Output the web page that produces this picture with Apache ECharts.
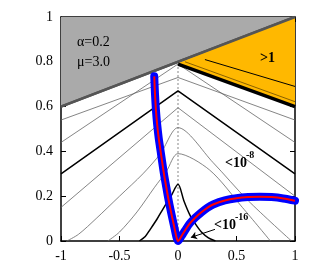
<!DOCTYPE html>
<html><head><meta charset="utf-8">
<script src="https://cdn.jsdelivr.net/npm/echarts@6/dist/echarts.min.js"></script>
<style>html,body{margin:0;padding:0;background:#fff}#c{width:316px;height:271px}</style>
</head><body><div id="c"></div>
<script>
// ---- data ----
const xRange = [-1, 1];
const yRange = [0, 1];
const greyBoundary = [[-1, 0.6], [1, 1]];
const orangeRegion = [[0, 0.795], [1, 1], [1, 0.6]];
const levelOneLine = [[0, 0.79], [1, 0.6]];
const levelOneInner = [[0.06, 0.8], [1, 0.622]];
const orangeInnerLine = [[0.23, 0.81], [1, 0.69]];
const zeroDotted = [[0, 0], [0, 0.79]];
// thin contour lines
const thinA = [[-1, 0.54], [0, 0.73], [1, 0.54]];
const thinB = [[-1, 0.44], [0, 0.79], [1, 0.44]];
const thinC = [[-1, 0.15], [0, 0.595], [1, 0.2]];
const thinD = [[-0.95, 0], [-0.85, 0.03], [-0.7, 0.1], [-0.5, 0.2], [-0.3, 0.3], [-0.15, 0.39], [0, 0.506], [0.3, 0.35], [0.6, 0.18], [0.97, 0]];
const thinE = [[-0.6, 0], [-0.5, 0.04], [-0.35, 0.13], [-0.2, 0.24], [-0.1, 0.31], [0, 0.39], [0.27, 0.317], [0.55, 0.15], [0.79, 0]];
// thick contour lines
const thickA = [[-1, 0.30], [0, 0.67], [1, 0.30]];
const thickB = [[-0.33, 0], [-0.28, 0.02], [-0.24, 0.05], [-0.18, 0.097], [-0.125, 0.146], [-0.06, 0.2], [0, 0.253], [0.05, 0.18], [0.1, 0.118], [0.15, 0.075], [0.2, 0.04], [0.26, 0.014], [0.32, 0]];
// blue/red curve
const curve = [[-0.203, 0.735], [-0.197, 0.66], [-0.188, 0.58], [-0.178, 0.52], [-0.165, 0.46], [-0.154, 0.42], [-0.14, 0.37], [-0.12, 0.3], [-0.1, 0.24], [-0.083, 0.19], [-0.06, 0.13], [-0.035, 0.07], [-0.012, 0.015], [0, 0], [0.03, 0.022], [0.06, 0.047], [0.1, 0.078], [0.15, 0.105], [0.2, 0.128], [0.25, 0.148], [0.3, 0.163], [0.4, 0.181], [0.5, 0.191], [0.6, 0.196], [0.7, 0.198], [0.8, 0.196], [0.9, 0.19], [1, 0.18]];
const arrow = [[0.316, 0.052], [0.11, 0.016]];

const serif = '"Liberation Serif","DejaVu Serif",serif';
const chart = echarts.init(document.getElementById('c'), null, {renderer: 'canvas'});

function lineS(data, color, width, extra) {
  return Object.assign({type: 'line', data: data, showSymbol: false, symbol: 'none', silent: true,
    animation: false, lineStyle: {color: color, width: width}}, extra || {});
}
function axisCommon() {
  return {
    axisLine: {onZero: false, lineStyle: {color: '#000', width: 1.5}},
    axisTick: {inside: true, length: 5, lineStyle: {color: '#000', width: 1}},
    splitLine: {show: false}
  };
}
chart.setOption({
  animation: false,
  grid: {left: 61, right: 21, top: 17, bottom: 30, containLabel: false},
  xAxis: [
    Object.assign({type: 'value', min: xRange[0], max: xRange[1], interval: 0.5, position: 'bottom',
      axisLabel: {fontFamily: serif, fontSize: 14, color: '#000', margin: 8}}, axisCommon()),
    Object.assign({type: 'value', min: xRange[0], max: xRange[1], interval: 0.5, position: 'top',
      axisLabel: {show: false}}, axisCommon())
  ],
  yAxis: [
    Object.assign({type: 'value', min: yRange[0], max: yRange[1], interval: 0.2, position: 'left',
      axisLabel: {fontFamily: serif, fontSize: 14, color: '#000', margin: 8}}, axisCommon()),
    Object.assign({type: 'value', min: yRange[0], max: yRange[1], interval: 0.2, position: 'right',
      axisLabel: {show: false}}, axisCommon())
  ],
  series: [
    lineS(greyBoundary, '#555', 2.5, {areaStyle: {color: '#aaaaaa', origin: 'end', opacity: 1}, z: 1}),
    {type: 'custom', data: orangeRegion, silent: true, z: 2,
      renderItem: function (params, api) {
        if (params.dataIndex !== 0) return null;
        const pts = orangeRegion.map(p => api.coord(p));
        return {type: 'polygon', shape: {points: pts}, style: {fill: '#ffb800'}};
      }},
    lineS(greyBoundary, '#555', 2.5, {z: 3}),
    lineS(zeroDotted, '#888', 1, {lineStyle: {color: '#888', width: 1, type: [2, 2]}, z: 3}),
    lineS(thinA, '#666', 0.8, {z: 3}),
    lineS(thinB, '#666', 0.8, {z: 3}),
    lineS(thinC, '#666', 0.8, {z: 3}),
    lineS(thinD, '#666', 0.8, {z: 3, smooth: 0.3}),
    lineS(thinE, '#666', 0.8, {z: 3, smooth: 0.3}),
    lineS(thickA, '#000', 1.5, {z: 4}),
    lineS(thickB, '#000', 1.5, {z: 4, smooth: 0.3}),
    lineS(levelOneInner, '#6b4a00', 0.8, {z: 4}),
    lineS(levelOneLine, '#000', 3.5, {z: 4}),
    lineS(orangeInnerLine, '#000', 1, {z: 4}),
    lineS(curve, '#0000ff', 8, {z: 5, smooth: 0.3, lineStyle: {color: '#0000ff', width: 8, cap: 'round', join: 'round'}}),
    lineS(curve, '#ff0000', 2, {z: 6, smooth: 0.3}),
    {type: 'lines', coordinateSystem: 'cartesian2d', silent: true, z: 6, symbol: ['none', 'arrow'], symbolSize: 6,
      lineStyle: {color: '#000', width: 1, opacity: 1}, data: [{coords: arrow}]}
  ],
  graphic: [
    {type: 'text', z: 100, left: 77, top: 35, style: {text: 'α=0.2', font: '14px ' + serif, fill: '#000'}},
    {type: 'text', z: 100, left: 77, top: 55, style: {text: 'μ=3.0', font: '14px ' + serif, fill: '#000'}},
    {type: 'text', z: 100, left: 260, top: 51, style: {text: '>1', font: 'bold 14px ' + serif, fill: '#000'}},
    {type: 'text', z: 100, left: 225, top: 156, style: {text: '<10', font: 'bold 14px ' + serif, fill: '#000'}},
    {type: 'text', z: 100, left: 246, top: 150, style: {text: '-8', font: 'bold 10px ' + serif, fill: '#000'}},
    {type: 'text', z: 100, left: 214, top: 218, style: {text: '<10', font: 'bold 14px ' + serif, fill: '#000'}},
    {type: 'text', z: 100, left: 235, top: 212, style: {text: '-16', font: 'bold 10px ' + serif, fill: '#000'}}
  ]
});
</script></body></html>
